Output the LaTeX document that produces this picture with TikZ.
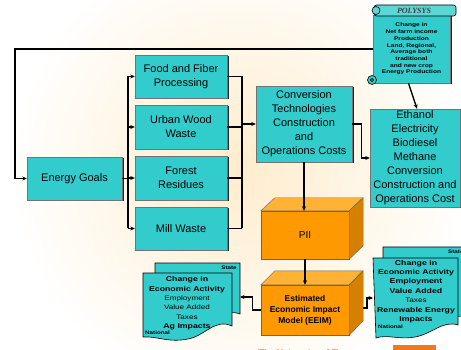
\documentclass[tikz,border=0pt]{standalone}
\usepackage{fontspec}
\setmainfont{Liberation Sans}
\newfontfamily\wfont[FakeStretch=1.25]{Liberation Sans}
\newfontfamily\serfont{Liberation Serif}
\usetikzlibrary{arrows.meta,shadows,calc}
\definecolor{tealbox}{RGB}{51,204,204}
\definecolor{orfront}{RGB}{255,153,0}
\definecolor{ortop}{RGB}{255,178,51}
\definecolor{orside}{RGB}{214,128,0}
\definecolor{cream}{RGB}{255,236,205}
\definecolor{utred}{RGB}{210,80,20}
\definecolor{logoor}{RGB}{240,120,30}
\begin{document}
\begin{tikzpicture}[x=1pt,y=-1pt,
  conn/.style={draw=black, line width=1.3pt},
  arr/.style={conn, -{Stealth[length=4.5pt,width=4pt]}},
  tbox/.style={draw=black!55, line width=0.4pt, fill=tealbox, align=center, inner sep=0pt,
    font=\fontsize{11}{14}\selectfont,
    drop shadow={shadow xshift=1.5pt, shadow yshift=-1.5pt, opacity=1, fill=black!85}},
  cubefront/.style={draw=black!60, line width=0.4pt, fill=orfront, align=center, inner sep=0pt},
  cubetop/.style={draw=black!60, line width=0.4pt, fill=ortop},
  cubeside/.style={draw=black!60, line width=0.4pt, fill=orside},
  docs/.style={draw=black, line width=0.6pt, fill=tealbox},
  doctext/.style={align=center, inner sep=0pt, font=\wfont\bfseries\fontsize{7}{9.4}\selectfont},
  tinylabel/.style={inner sep=0pt, font=\wfont\bfseries\fontsize{5}{6}\selectfont},
]
\clip (0,0) rectangle (461,350);
\useasboundingbox (0,0) rectangle (461,350);
\shade[inner color=cream, outer color=white] (240,170) circle (230);

% main boxes
\node[tbox, minimum width=95pt, minimum height=43pt] (eg) at (74.5,178.5) {Energy Goals};
\node[tbox, minimum width=92pt, minimum height=43pt] (ff) at (181,76.5) {Food and Fiber\\Processing};
\node[tbox, minimum width=92pt, minimum height=44pt] (uw) at (181,127) {Urban Wood\\Waste};
\node[tbox, minimum width=92pt, minimum height=44pt] (fr) at (181,178) {Forest\\Residues};
\node[tbox, minimum width=92pt, minimum height=43pt] (mw) at (181,228.5) {Mill Waste};
\node[tbox, minimum width=96pt, minimum height=76pt] (conv) at (304,124)
  {Conversion\\Technologies\\Construction\\and\\Operations Costs};
\node[tbox, minimum width=90pt, minimum height=98pt] (eth) at (415,158)
  {Ethanol\\Electricity\\Biodiesel\\Methane\\Conversion\\Construction and\\Operations Cost};

% POLYSYS scroll
\node[tbox, minimum width=77pt, minimum height=68pt, font=\wfont\bfseries\fontsize{5.3}{6.7}\selectfont] (pol) at (411.5,49)
  {Change in\\Net farm income\\Production\\Land, Regional,\\Average both\\traditional\\and new crop\\Energy Production};
\filldraw[docs, fill=tealbox!80!white, rounded corners=2.5pt] (374,5) rectangle (456,16);
\filldraw[docs, fill=tealbox!80!white] (376,10.5) circle (4);
\node[inner sep=0pt, font=\serfont\bfseries\itshape\fontsize{8}{9}\selectfont, text=black!75] (polh) at (414,11) {POLYSYS};
\filldraw[docs] (372,80) circle (4.5);
\filldraw[docs, fill=tealbox!70!black] (372,80) circle (1.8);

% cubes
\node[cubefront, minimum width=88pt, minimum height=48pt, font=\fontsize{10}{12}\selectfont] (pii) at (305,235) {PII};
\filldraw[cubetop] (pii.north west) -- ++(14,-13) -- ++(88,0) -- (pii.north east) -- cycle;
\filldraw[cubeside] (pii.north east) -- ++(14,-13) -- ++(0,48) -- (pii.south east) -- cycle;
\node[cubefront, minimum width=88pt, minimum height=50pt, font=\bfseries\fontsize{8.5}{11}\selectfont] (eeim) at (305,310)
  {Estimated\\Economic Impact\\Model (EEIM)};
\filldraw[cubetop] (eeim.north west) -- ++(14,-14) -- ++(88,0) -- (eeim.north east) -- cycle;
\filldraw[cubeside] (eeim.north east) -- ++(14,-14) -- ++(0,50) -- (eeim.south east) -- cycle;

% left documents
\filldraw[docs] (155,263) -- (240,263) -- (240,314) .. controls (225,308) and (215,322) .. (198,325)
  .. controls (180,328) and (168,322) .. (155,324) -- cycle;
\node[tinylabel] (lstate) at (229,268) {State};
\filldraw[docs] (143,273) -- (232,273) -- (232,326) .. controls (215,318) and (205,336) .. (188,339)
  .. controls (168,343) and (158,336) .. (143,337) -- cycle;
\node[doctext] (ldoc) at (187,303.5) {Change in\\Economic Activity\\{\mdseries\fontsize{6.5}{9.4}\selectfont Employment}\\{\mdseries\fontsize{6.5}{9.4}\selectfont Value Added}\\{\mdseries\fontsize{6.5}{9.4}\selectfont Taxes}\\Ag Impacts};
\node[tinylabel, anchor=west] (lnat) at (145,333) {National};

% right documents
\filldraw[docs] (383,247) -- (475,247) -- (475,315) -- (383,322) -- cycle;
\node[tinylabel, anchor=west] (rstate) at (448,252) {State};
\filldraw[docs] (373,258) -- (458,258) -- (458,325) .. controls (443,320) and (432,334) .. (415,337)
  .. controls (398,340) and (388,334) .. (376,338) -- cycle;
\node[doctext] (rdoc) at (416,291.5) {Change in\\Economic Activity\\Employment\\Value Added\\{\mdseries\fontsize{6.5}{9.4}\selectfont Taxes}\\Renewable Energy\\Impacts};
\node[tinylabel, anchor=west] (rnat) at (378,327) {National};

% footer
\node[anchor=base west, inner sep=0pt, text=utred, font=\serfont\fontsize{10}{12}\selectfont] (ut) at (258,356) {The University of Tennessee};
\fill[logoor] (393,345) rectangle (436,352);

% connectors
\coordinate (tl) at (15,48);
\draw[arr] (pol.west) -- (pol.west -| tl) |- (eg.west);
\coordinate (lb) at (128,178);
\draw[conn] (eg.east) -- (lb |- eg.east);
\draw[conn] (lb |- ff.west) -- (lb |- mw.west);
\foreach \n in {ff,uw,fr,mw} \draw[arr] (lb |- \n.west) -- (\n.west);
\coordinate (rb) at (242,124);
\foreach \n in {ff,uw,fr,mw} \draw[conn] (\n.east) -- (rb |- \n.east);
\draw[conn] (rb |- ff.east) -- (rb |- mw.east);
\draw[arr] (rb |- conv.west) -- (conv.west);
\draw[arr] (conv.east) -- ++(9,0) |- (eth.west);
\draw[arr] ([xshift=-3pt]pol.south) -- ([xshift=2pt]eth.north);
\draw[arr] (conv.south) -- (conv.south |- pii.north);
\draw[arr] (pii.south) -- (eeim.north);
\coordinate (lin) at (240,297);
\draw[arr] (eeim.west) -- ++(-8,0) |- (lin);
\coordinate (rin) at (373,298);
\coordinate (rout) at (363,308);
\draw[arr] (rout) -- ++(4,0) |- (rin);
\end{tikzpicture}
\end{document}
